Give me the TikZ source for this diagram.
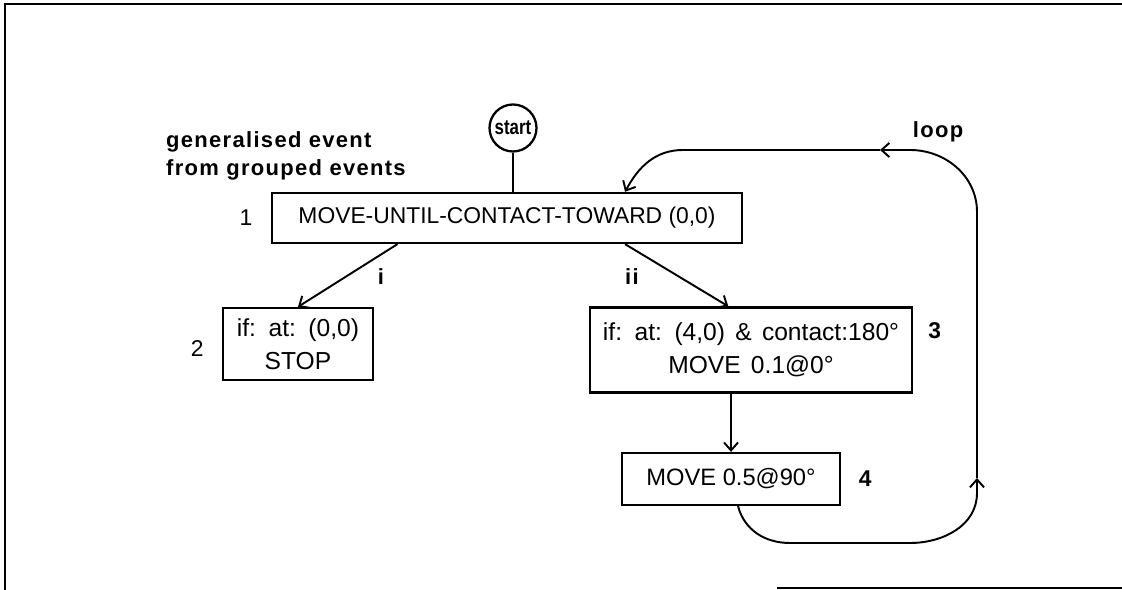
\documentclass[tikz,border=0pt]{standalone}
\usepackage{fontspec}
\setmainfont{Liberation Sans}
\newfontfamily\lblfont[LetterSpace=6]{Liberation Sans}
\newfontfamily\condfont[WordSpace=1.5]{Liberation Sans}
\newfontfamily\startfont[FakeStretch=0.8]{Liberation Sans}
\usetikzlibrary{arrows.meta}
\usetikzlibrary{calc}
\usetikzlibrary{positioning}

\begin{document}
\begin{tikzpicture}[x=0.02cm, y=0.02cm,
    box/.style={rectangle, draw, line width=1.3pt, inner sep=0pt, align=center,
      font=\fontsize{13.5}{19}\selectfont},
    condbox/.style={box, font=\condfont\fontsize{14}{19}\selectfont},
    lbl/.style={font=\lblfont\bfseries\fontsize{12.5}{15}\selectfont},
    num/.style={font=\fontsize{13}{15}\selectfont},
    bnum/.style={font=\bfseries\fontsize{13}{15}\selectfont},
    link/.style={line width=1.1pt},
    tip/.style={-{Straight Barb[length=4.5pt,width=8pt,line width=1.1pt]}},
  ]
  \useasboundingbox (0,0) rectangle (1122,590);
  \draw[line width=1.4pt] (5,0) -- (5,586) -- (1122,586);
  \draw[line width=1.4pt] (777,2) -- (1122,2);

  \node[circle, draw, line width=1.3pt, minimum size=0.94cm, inner sep=0pt,
    font=\startfont\bfseries\fontsize{12}{14}\selectfont] (start) at (513,462) {start};
  \node[lbl, anchor=west] (gen) at (160,448) {generalised event};
  \node[lbl, anchor=west] (grp) at (160,420) {from grouped events};

  \node[box, font=\fontsize{13}{19}\selectfont, minimum width=9.4cm, minimum height=1cm]
    (move) at (507,372) {MOVE-UNTIL-CONTACT-TOWARD (0,0)};
  \node[num, left=0.25cm of move] (n1) {1};
  \node[condbox, minimum width=3cm, minimum height=1.44cm] (stop) at (298,246)
    {if: at: (0,0)\\STOP};
  \node[num, left=0.24cm of stop, yshift=-0.1cm] (n2) {2};
  \node[condbox, minimum width=6.44cm, minimum height=1.7cm] (cont) at (751,240)
    {if: at: (4,0) \& contact:180°\\MOVE 0.1@0°};
  \node[bnum, right=0.18cm of cont, yshift=0.38cm] (n3) {3};
  \node[box, minimum width=4.36cm, minimum height=1.04cm] (act) at (731,111)
    {MOVE 0.5@90°};
  \node[bnum, right=0.23cm of act] (n4) {4};

  \node[lbl] (li) at (381,313) {i};
  \node[lbl] (lii) at (632,313) {ii};
  \node[lbl] (lloop) at (938,458) {loop};

  \draw[link] (start) -- (start |- move.north);
  \draw[link, tip] ($(move.south west)!0.268!(move.south east)$) -- (stop.north);
  \draw[link, tip] ($(move.south west)!0.75!(move.south east)$)
    -- ($(cont.north west)!0.43!(cont.north east)$);
  \draw[link, tip] (cont.south -| act.north) -- (act.north);

  \coordinate (l1) at (790,47);
  \coordinate (l2) at (910,47);
  \coordinate (l3) at (977,97);
  \coordinate (l4) at (977,112);
  \coordinate (l5) at (977,378);
  \coordinate (l6) at (910,440);
  \coordinate (l7) at (880,440);
  \coordinate (l8) at (683,440);
  \draw[link] ([xshift=0.14cm]act.south) to[out=-75,in=180] (l1) -- (l2)
    to[out=0,in=-90] (l3);
  \draw[link, tip] (l3) -- (l4);
  \draw[link] (l4) -- (l5) to[out=90,in=0] (l6);
  \draw[link, tip] (l6) -- (l7);
  \draw[link, tip] (l7) -- (l8) to[out=180,in=62]
    ($(move.north west)!0.75!(move.north east)$);
\end{tikzpicture}
\end{document}
